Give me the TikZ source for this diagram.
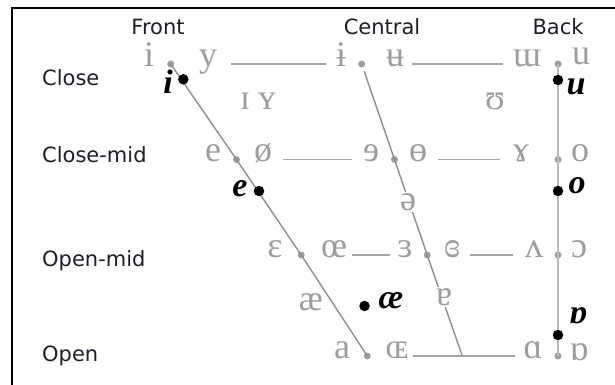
\documentclass[tikz,border=0pt]{standalone}
\usepackage{fontspec}
\setmainfont{Liberation Serif}
\newfontfamily\labfont{DejaVu Sans}
\definecolor{ipagrey}{HTML}{9E9E9E}
\definecolor{linegrey}{HTML}{8E8E8E}
\definecolor{hgrey}{HTML}{A6A6A6}
\definecolor{backgrey}{HTML}{BBBBBB}
\definecolor{labcol}{HTML}{1E1E2A}
\tikzset{
  ipa/.style={anchor=mid, inner sep=1pt, text=ipagrey, font=\fontsize{36}{37}\selectfont},
  ipabg/.style={ipa, fill=white, inner sep=1pt},
  gdot/.style={circle, fill=ipagrey, inner sep=0pt, minimum size=7pt},
  bdot/.style={circle, fill=black, inner sep=0pt, minimum size=10.5pt},
  blab/.style={anchor=mid, inner sep=0pt, text=black, font=\fontsize{34}{36}\selectfont\bfseries\itshape},
  rowlab/.style={anchor=base west, inner sep=0pt, text=labcol, font=\labfont\fontsize{21}{23}\selectfont},
  collab/.style={anchor=base, inner sep=0pt, text=labcol, font=\labfont\fontsize{21}{23}\selectfont},
  edge/.style={draw=linegrey, line width=1.4pt},
  hline/.style={draw=hgrey, line width=1.4pt},
  backline/.style={draw=backgrey, line width=2.6pt},
  frame/.style={draw=black, line width=2pt}
}
\begin{document}
\begin{tikzpicture}[x=1pt,y=-1pt]
\useasboundingbox (0,0) rectangle (615,385);
% frame
\coordinate (fTL) at (12,8);
\coordinate (fTR) at (615,8);
\coordinate (fBL) at (12,385);
\draw[frame] (fTR) -- (fTL) -- (fBL);
% headers
\node[collab] (hFront) at (158,35) {Front};
\node[collab] (hCentral) at (382,35) {Central};
\node[collab] (hBack) at (558,35) {Back};
% row labels
\node[rowlab] (rClose) at (42,86) {Close};
\node[rowlab] (rCloseMid) at (42,162) {Close-mid};
\node[rowlab] (rOpenMid) at (42,266) {Open-mid};
\node[rowlab] (rOpen) at (42,361) {Open};
% grey dots
\node[gdot] (dI) at (170.7,64) {};
\node[gdot] (dIbar) at (361.7,64) {};
\node[gdot] (dU) at (558,64) {};
\node[gdot] (dE) at (236.5,159.5) {};
\node[gdot] (dRevE) at (394.5,159.5) {};
\node[gdot] (dO) at (558,159.5) {};
\node[gdot] (dEps) at (301.2,255) {};
\node[gdot] (dRevEps) at (427.2,255) {};
\node[gdot] (dOpenO) at (558,255) {};
\node[gdot] (dA) at (367.3,356) {};
\node[gdot] (dAlpha) at (558,356) {};
\coordinate (cBottom) at (462.3,356);
% structural lines
\draw[backline] (dU.center) -- (dAlpha.center);
\draw[edge] (dI.center) -- (dE.center) -- (dEps.center) -- (dA.center);
\draw[edge, shorten <=4pt] (dIbar) -- (dRevE.center) -- (dRevEps.center) -- (cBottom);
% horizontal lines
\coordinate (h1a) at (231,64);   \coordinate (h1b) at (326,64);
\coordinate (h1c) at (412,64);   \coordinate (h1d) at (503,64);
\coordinate (h2a) at (283,159.5); \coordinate (h2b) at (352,159.5);
\coordinate (h2c) at (438,159.5); \coordinate (h2d) at (500,159.5);
\coordinate (h3a) at (352,255);  \coordinate (h3b) at (390,255);
\coordinate (h3c) at (470,255);  \coordinate (h3d) at (513,255);
\coordinate (h4a) at (413,356);  \coordinate (h4b) at (515,356);
\draw[hline] (h1a) -- (h1b);
\draw[hline] (h1c) -- (h1d);
\draw[hline] (h2a) -- (h2b);
\draw[hline] (h2c) -- (h2d);
\draw[hline] (h3a) -- (h3b);
\draw[hline] (h3c) -- (h3d);
\draw[hline] (h4a) -- (cBottom) -- (h4b);
% grey IPA symbols
\node[ipa] (vi) at (149,64) {i};
\node[ipa] (vy) at (208,64) {y};
\node[ipa] (vibar) at (341,64) {ɨ};
\node[ipa] (vubar) at (395,64) {ʉ};
\node[ipa] (vmw) at (527,64) {ɯ};
\node[ipa] (vu) at (581,62) {u};
\node[ipa] (vsci) at (245,107) {ɪ};
\node[ipa] (vscy) at (267,107) {ʏ};
\node[ipa] (vups) at (495,107) {ʊ};
\node[ipa] (ve) at (213,159.5) {e};
\node[ipa] (voe) at (263,159.5) {ø};
\node[ipa] (vreve) at (371,159.5) {ɘ};
\node[ipa] (vobar) at (418,159.5) {ɵ};
\node[ipa] (vram) at (521,159.5) {ɤ};
\node[ipa] (vo) at (580,159.5) {o};
\node[ipabg] (vschwa) at (408,208) {ə};
\node[ipa] (veps) at (275,255) {ɛ};
\node[ipa] (voelig) at (334,255) {œ};
\node[ipa] (vreveps) at (405,255) {ɜ};
\node[ipa] (vcloseps) at (452,255) {ɞ};
\node[ipa] (vwedge) at (534,255) {ʌ};
\node[ipa] (vopeno) at (579,255) {ɔ};
\node[ipa] (vae) at (311,308) {æ};
\node[ipabg] (vturna) at (444,303) {ɐ};
\node[ipa] (va) at (342,356) {a};
\node[ipa] (vscoe) at (397,356) {ɶ};
\node[ipa] (valpha) at (533,356) {ɑ};
\node[ipa] (vturnalpha) at (579,358) {ɒ};
% black dots and labels
\node[bdot] (bI) at (183.3,79.3) {};
\node[blab] (lI) at (168,91) {i};
\node[bdot] (bE) at (259,191) {};
\node[blab] (lE) at (240,194) {e};
\node[bdot] (bAE) at (364.5,306) {};
\node[blab] (lAE) at (391,306) {æ};
\node[bdot] (bU) at (558,80) {};
\node[blab] (lU) at (576,92) {u};
\node[bdot] (bO) at (558,191) {};
\node[blab] (lO) at (577,191) {o};
\node[bdot] (bAlpha) at (558,335) {};
\node[blab] (lAlpha) at (578,321) {ɒ};
\end{tikzpicture}
\end{document}
